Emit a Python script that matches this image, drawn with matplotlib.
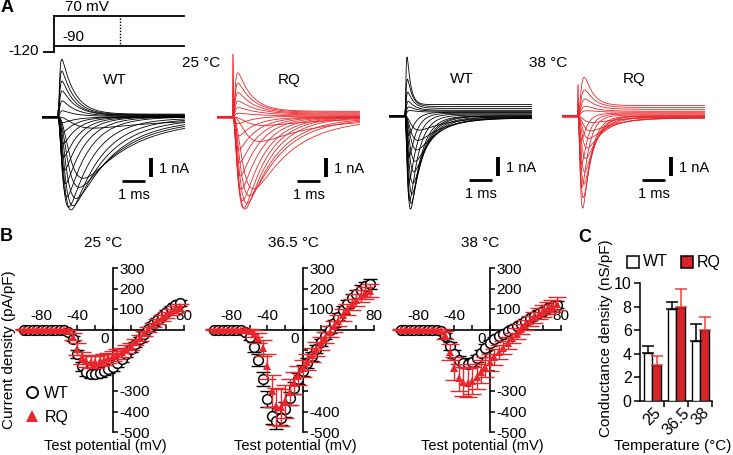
import numpy as np
import matplotlib
matplotlib.use('Agg')
import matplotlib.pyplot as plt
from matplotlib.lines import Line2D

plt.rcParams['font.family'] = ['Liberation Sans', 'DejaVu Sans']

# ---------------- data ----------------
# Panel A: voltage protocol (mV)
hold_v = -120
step_levels = [70, -90]

# Panel A: representative sweeps (peak nA, activation tau ms, inactivation tau ms, sustained nA)
wt25_amp = [2.9, 2.3, 1.8, 1.3, 0.8, 0.3, -0.3, -0.8, -1.4, -2.1, -2.8, -3.5, -4.2, -4.7, -4.85, -4.6, -4.2, -3.6, -3.1, -0.5]
wt25_tm = [0.045, 0.046, 0.048, 0.05, 0.053, 0.056, 0.06, 0.062, 0.068, 0.075, 0.085, 0.10, 0.12, 0.145, 0.18, 0.21, 0.26, 0.31, 0.38, 0.5]
wt25_th = [0.55, 0.55, 0.55, 0.6, 0.6, 0.6, 0.6, 0.6, 0.65, 0.7, 0.75, 0.85, 0.95, 1.1, 1.3, 1.5, 1.7, 1.9, 2.1, 3.0]
wt25_ss = [0.15, 0.12, 0.1, 0.08, 0.05, 0.03, 0, 0, 0, 0, 0, 0, 0, -0.05, -0.05, -0.08, -0.1, -0.12, -0.15, -0.1]
wt25_art = 0.35

rq25_amp = [2.05, 1.55, 1.1, 0.7, 0.4, 0.15, -0.4, -1.0, -1.7, -2.4, -3.1, -3.8, -4.4, -4.8, -4.85, -4.5, -4.1, -3.7, -1.2, -0.4]
rq25_tm = [0.06, 0.06, 0.06, 0.06, 0.06, 0.06, 0.065, 0.07, 0.075, 0.085, 0.095, 0.11, 0.13, 0.15, 0.17, 0.2, 0.24, 0.31, 0.4, 0.45]
rq25_th = [0.6, 0.65, 0.7, 0.8, 0.9, 1.0, 0.7, 0.75, 0.8, 0.85, 0.9, 0.95, 1.0, 1.05, 1.15, 1.3, 1.45, 1.7, 2.2, 2.5]
rq25_ss = [0.3, 0.25, 0.2, 0.15, 0.1, 0.05, 0.05, 0, 0, 0, 0, 0, 0, 0, 0, -0.05, -0.05, -0.1, -0.1, -0.05]
rq25_art = 3.7

wt38_amp = [2.6, 1.5, 0.9, 0.5, 0.25, 0.1, -1.2, -2.3, -3.5, -4.5, -4.9, -4.6, -4.1, -3.5, -2.9, -2.3, -1.7, -1.2, -0.7]
wt38_tm = [0.03, 0.033, 0.036, 0.04, 0.045, 0.05, 0.055, 0.06, 0.065, 0.07, 0.085, 0.095, 0.11, 0.125, 0.14, 0.16, 0.18, 0.19, 0.2]
wt38_th = [0.15, 0.2, 0.25, 0.3, 0.35, 0.4, 0.3, 0.32, 0.35, 0.4, 0.45, 0.5, 0.55, 0.6, 0.7, 0.8, 0.95, 1.1, 1.3]
wt38_ss = [0.6, 0.5, 0.4, 0.3, 0.25, 0.2, 0.2, 0.15, 0.1, 0.05, 0, 0, 0, -0.05, -0.05, -0.1, -0.1, -0.1, -0.05]
wt38_art = 0.3

rq38_amp = [1.6, 1.0, 0.6, 0.3, 0.1, -1.4, -2.6, -3.8, -4.85, -4.3, -3.6, -2.9, -2.2, -1.6, -1.1, -0.7, -0.3]
rq38_tm = [0.1, 0.1, 0.1, 0.1, 0.1, 0.055, 0.06, 0.065, 0.075, 0.085, 0.095, 0.105, 0.12, 0.14, 0.16, 0.18, 0.2]
rq38_th = [0.35, 0.4, 0.45, 0.5, 0.5, 0.26, 0.28, 0.3, 0.35, 0.4, 0.45, 0.5, 0.6, 0.75, 0.9, 1.1, 1.3]
rq38_ss = [0.55, 0.45, 0.35, 0.25, 0.2, 0.15, 0.1, 0.05, 0, 0, 0, -0.05, -0.05, -0.1, -0.1, -0.1, -0.05]
rq38_art = 1.65

# Panel B: I-V relations (pA/pF)
test_v = [-100, -95, -90, -85, -80, -75, -70, -65, -60, -55, -50, -45, -40, -35, -30, -25, -20, -15,
          -10, -5, 0, 5, 10, 15, 20, 25, 30, 35, 40, 45, 50, 55, 60, 65, 70, 75]

wt25 = [0, 0, 0, 0, 0, 0, 0, 0, -1, -3, -10, -45, -120, -180, -205, -215, -215, -210, -203, -195,
        -185, -165, -143, -120, -97, -72, -48, -22, 3, 25, 45, 66, 85, 103, 118, 130]
wt25_err = [2, 2, 2, 2, 2, 2, 2, 2, 2, 3, 5, 12, 20, 22, 22, 22, 22, 20, 20, 18,
            17, 16, 15, 14, 13, 12, 11, 10, 10, 10, 10, 11, 12, 13, 13, 14]
rq25 = [0, 0, 0, 0, 0, 0, 0, 0, -1, -3, -8, -35, -95, -140, -155, -160, -158, -153, -147, -140,
        -130, -120, -110, -97, -82, -62, -40, -18, 2, 22, 40, 57, 72, 86, 98, 108]
rq25_err = [3, 3, 3, 3, 3, 3, 3, 3, 3, 4, 8, 18, 28, 30, 30, 30, 28, 27, 26, 25,
            24, 23, 22, 20, 18, 16, 14, 12, 12, 12, 13, 14, 15, 16, 17, 18]

wt365 = [0, 0, 0, 0, 0, 0, -3, -12, -35, -85, -150, -240, -340, -420, -445, -430, -390, -335, -285, -240,
         -200, -165, -130, -95, -62, -30, 0, 30, 62, 95, 125, 152, 175, 195, 210, 222]
wt365_err = [3, 3, 3, 3, 3, 3, 4, 8, 15, 25, 30, 35, 38, 40, 40, 38, 35, 32, 30, 28,
             26, 24, 22, 20, 18, 17, 17, 17, 18, 18, 19, 20, 20, 21, 22, 22]
rq365 = [0, 0, 0, 0, 0, 0, 0, -3, -8, -20, -40, -90, -180, -300, -375, -380, -350, -305, -262, -225,
         -190, -158, -125, -95, -68, -40, -12, 15, 42, 70, 97, 122, 145, 163, 178, 190]
rq365_err = [4, 4, 4, 4, 4, 4, 4, 6, 10, 18, 25, 40, 60, 80, 90, 90, 80, 65, 55, 48,
             42, 38, 35, 32, 30, 28, 27, 27, 27, 28, 28, 29, 30, 30, 31, 32]

wt38 = [0, 0, 0, 0, 0, 0, 0, 0, -2, -8, -30, -80, -120, -150, -165, -168, -160, -140, -115, -88,
        -65, -48, -33, -20, -8, 3, 15, 27, 40, 55, 68, 80, 92, 103, 112, 120]
wt38_err = [3, 3, 3, 3, 3, 3, 3, 3, 4, 6, 12, 18, 20, 20, 20, 20, 20, 18, 17, 15,
            14, 12, 11, 10, 10, 10, 10, 10, 11, 11, 12, 13, 14, 15, 16, 17]
rq38 = [0, 0, 0, 0, 0, 0, 0, 0, -2, -6, -25, -110, -190, -235, -255, -260, -250, -230, -205, -182,
        -160, -135, -112, -88, -65, -42, -20, 2, 22, 42, 60, 77, 92, 105, 115, 125]
rq38_err = [4, 4, 4, 4, 4, 4, 4, 4, 5, 8, 20, 40, 55, 65, 70, 70, 65, 60, 55, 48,
            42, 38, 34, 30, 28, 26, 25, 25, 25, 26, 27, 28, 29, 30, 31, 32]

# Panel C: conductance density (nS/pF)
temps = ['25', '36.5', '38']
wt_g = [4.05, 7.8, 5.1]
wt_g_err = [0.6, 0.6, 1.4]
rq_g = [3.05, 8.0, 6.0]
rq_g_err = [0.75, 1.5, 1.1]

# ---------------- figure ----------------
W, H = 733, 455
fig = plt.figure(figsize=(W / 100, H / 100), dpi=100)
RED = '#e8262b'
BAR_RED = '#d9252a'
ERR_RED = '#e8453f'


def box(l, t, r, b):
    return [l / W, 1 - b / H, (r - l) / W, (b - t) / H]


def ftext(x, y, s, **kw):
    fig.text(x / W, 1 - y / H, s, **kw)


# ---- Panel A: protocol ----
PX_MS = 23.0
PX_MV = 36.0 / 190.0
axp = fig.add_axes(box(54 - 0.5 * PX_MS, 16 - 10 * PX_MV, 54 + 5.7 * PX_MS, 52 + 10 * PX_MV))
axp.set_xlim(-0.5, 5.7)
axp.set_ylim(-130, 80)
axp.axis('off')
axp.plot([-0.5, 0], [hold_v, hold_v], color='k', lw=1.3)
axp.plot([0, 0], [hold_v, max(step_levels)], color='k', lw=1.3)
for v in step_levels:
    axp.plot([0, 5.65], [v, v], color='k', lw=1.3)
axp.plot([2.85, 2.85], [62, -80], color='k', lw=1.0, ls=(0, (1, 1.2)))
ftext(65, 7, '70 mV', fontsize=11, ha='left', va='center')
ftext(62, 37, '-90', fontsize=11, ha='left', va='center')
ftext(39, 51, '-120', fontsize=11, ha='right', va='center')
ftext(7, 7, 'A', fontsize=13, fontweight='bold', ha='center', va='center')

# ---- Panel A: traces ----
PX_NA = 19.0
tt = np.linspace(-0.7, 5.5, 1600)


def sweep(amp, tm, th, ss):
    tp = np.clip(tt, 0, None)
    m3 = (1 - np.exp(-tp / tm)) ** 3
    g = m3 * np.exp(-tp / th)
    return amp * g / g.max() + ss * m3


def trace_panel(onset, base, amps, tms, ths, sss, art, color, label):
    ax = fig.add_axes(box(onset - 0.7 * PX_MS, base - 3.3 * PX_NA,
                          onset + 5.55 * PX_MS, base + 5.2 * PX_NA))
    ax.set_xlim(-0.7, 5.55)
    ax.set_ylim(-5.2, 3.3)
    ax.axis('off')
    for a, m, h, s in zip(amps, tms, ths, sss):
        ax.plot(tt, sweep(a, m, h, s), color=color, lw=0.6)
    ax.plot([-0.7, 0], [0, 0], color=color, lw=1.8)
    ax.plot([-0.02, 0.0, 0.03], [0, art, 0], color=color, lw=0.8, clip_on=True)
    # scale bars
    ax.plot([2.8, 3.8], [-3.35, -3.35], color='k', lw=2.0, solid_capstyle='butt')
    ax.plot([4.05, 4.05], [-2.15, -3.15], color='k', lw=2.8, solid_capstyle='butt')
    ax.text(4.38, -2.72, '1 nA', fontsize=10.5, ha='left', va='center')
    ax.text(3.3, -4.1, '1 ms', fontsize=10.5, ha='center', va='center')
    ax.text(2.45, 1.95, label, fontsize=11, ha='center', va='center')


trace_panel(58, 117, wt25_amp, wt25_tm, wt25_th, wt25_ss, wt25_art, 'k', 'WT')
trace_panel(233, 117, rq25_amp, rq25_tm, rq25_th, rq25_ss, rq25_art, RED, 'RQ')
trace_panel(405, 116, wt38_amp, wt38_tm, wt38_th, wt38_ss, wt38_art, 'k', 'WT')
trace_panel(578, 116, rq38_amp, rq38_tm, rq38_th, rq38_ss, rq38_art, RED, 'RQ')
ftext(201, 63, '25 °C', fontsize=11, ha='center', va='center')
ftext(548, 63, '38 °C', fontsize=11, ha='center', va='center')

# ---- Panel B ----
ftext(6, 236, 'B', fontsize=13, fontweight='bold', ha='center', va='center')


def iv_panel(x0, top, bottom, wt, wte, rq, rqe, ylabs, title):
    ax = fig.add_axes(box(x0 - 89, top, x0 + 71, bottom))
    ax.set_xlim(-100, 80)
    ax.set_ylim(-500, 300)
    ax.patch.set_visible(False)
    for s in ['left', 'bottom']:
        ax.spines[s].set_visible(False)
    ax.spines['right'].set_position(('data', 0))
    ax.spines['top'].set_position(('data', 0))
    for s in ['right', 'top']:
        ax.spines[s].set_linewidth(1.2)
    ax.yaxis.tick_right()
    ax.xaxis.tick_top()
    yt = list(range(-500, 301, 100))
    ax.set_yticks(yt)
    ax.set_yticklabels([str(v) if v in ylabs else '' for v in yt])
    xt = list(range(-100, 81, 20))
    ax.set_xticks(xt)
    ax.set_xticklabels([str(v) if v in (-80, -40, 80) else '' for v in xt])
    ax.tick_params(direction='out', length=3.5, width=1.1, labelsize=11, pad=1)
    ax.text(-4, -47, '0', fontsize=11, ha='right', va='center')
    ax.errorbar(test_v, wt, yerr=wte, fmt='none', ecolor='k', elinewidth=1.0,
                capsize=5, capthick=1.0, zorder=3, clip_on=False)
    ax.plot(test_v, wt, 'o', mfc='white', mec='k', ms=7, mew=1.1, zorder=4, clip_on=False)
    ax.errorbar(test_v, rq, yerr=rqe, fmt='none', ecolor=RED, elinewidth=1.0,
                capsize=6.5, capthick=1.0, zorder=5, clip_on=False)
    ax.plot(test_v, rq, '^', color=RED, ms=6.3, mew=0, zorder=6, clip_on=False)
    ftext(x0 - 10, 243, title, fontsize=11, ha='center', va='center')
    ftext(x0 - 8, 446, 'Test potential (mV)', fontsize=10.5, ha='center', va='center')
    return ax


ax1 = iv_panel(113, 268, 432, wt25, wt25_err, rq25, rq25_err, (300, 200, 100, -300, -400, -500), '25 °C')
ax2 = iv_panel(303, 268, 432, wt365, wt365_err, rq365, rq365_err, (300, 200, 100, -400, -500), '36.5 °C')
ax3 = iv_panel(490, 268, 432, wt38, wt38_err, rq38, rq38_err, (300, 200, 100, -300, -400, -500), '38 °C')
ftext(9, 350, 'Current density (pA/pF)', fontsize=11, rotation=90, ha='center', va='center')

hb = [Line2D([], [], marker='o', ls='', mfc='white', mec='k', ms=8, mew=1.3),
      Line2D([], [], marker='^', ls='', color=RED, ms=8, mew=0)]
ax1.legend(hb, ['WT', 'RQ'], loc='upper left', bbox_to_anchor=(26 / W, 1 - 386 / H),
           bbox_transform=fig.transFigure, frameon=False, handlelength=0.7,
           handletextpad=0.45, labelspacing=0.55, fontsize=11.5, borderpad=0, borderaxespad=0)

# ---- Panel C ----
ftext(585, 238, 'C', fontsize=13, fontweight='bold', ha='center', va='center')
axc = fig.add_axes(box(640, 283, 712, 401))
xg = np.arange(len(temps))
axc.bar(xg - 0.18, wt_g, 0.36, color='white', edgecolor='k', lw=1.0, zorder=3)
axc.bar(xg + 0.18, rq_g, 0.36, color=BAR_RED, edgecolor='k', lw=1.0, zorder=3)
axc.errorbar(xg - 0.18, wt_g, yerr=[np.zeros(len(wt_g)), wt_g_err], fmt='none', ecolor='k',
             elinewidth=1.1, capsize=4, capthick=1.1, zorder=4)
axc.errorbar(xg + 0.18, rq_g, yerr=[np.zeros(len(rq_g)), rq_g_err], fmt='none', ecolor=ERR_RED,
             elinewidth=1.1, capsize=4, capthick=1.1, zorder=4)
axc.set_xlim(-0.52, 2.48)
axc.set_ylim(0, 10)
axc.spines['top'].set_visible(False)
axc.spines['right'].set_visible(False)
for s in ['left', 'bottom']:
    axc.spines[s].set_linewidth(1.1)
axc.set_yticks([0, 2, 4, 6, 8, 10])
axc.tick_params(axis='y', direction='out', length=4, width=1.1, labelsize=11.5, pad=2)
axc.set_xticks(xg)
axc.set_xticklabels(temps, rotation=45, ha='center', va='top')
axc.tick_params(axis='x', length=0, labelsize=11.5, pad=3)
axc.set_xticks([0.5, 1.5, 2.48], minor=True)
axc.tick_params(axis='x', which='minor', direction='out', length=4, width=1.1)
ftext(606, 338, 'Conductance density (nS/pF)', fontsize=11, rotation=90, ha='center', va='center')
ftext(673, 446, 'Temperature (°C)', fontsize=11, ha='center', va='center')

# legend for C placed by hand
for (xm, lab, fc) in [(633, 'WT', 'white'), (687, 'RQ', BAR_RED)]:
    fig.add_artist(Line2D([xm / W], [1 - 262 / H], transform=fig.transFigure, marker='s', ls='',
                          mfc=fc, mec='k', ms=8.5, mew=1.1))
    ftext(xm + 10, 262, lab, fontsize=11.5, ha='left', va='center')

fig.savefig('out.png', dpi=100)
